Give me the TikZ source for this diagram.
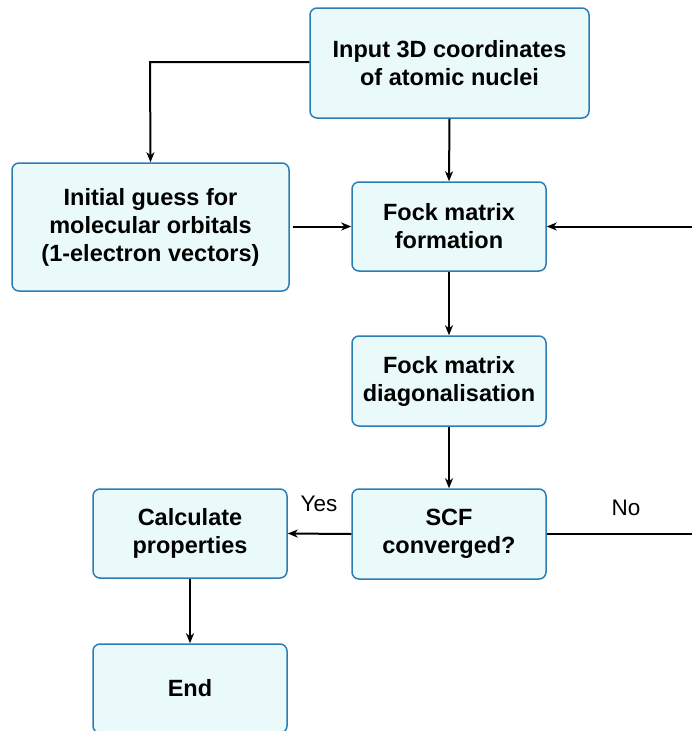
\documentclass[tikz,border=0pt]{standalone}
\usepackage{fontspec}
\setmainfont{Liberation Sans}
\usetikzlibrary{arrows.meta}
\definecolor{boxfill}{HTML}{EAFAFA}
\definecolor{boxline}{HTML}{2A7DB5}
\begin{document}
\begin{tikzpicture}[x=1pt,y=-1pt,
  box/.style={draw=boxline, line width=1.5pt, fill=boxfill, rounded corners=7pt,
    align=center, font=\fontsize{23.5}{28}\selectfont\bfseries, inner sep=0pt},
  conn/.style={line width=2pt, -{Stealth[length=10pt,width=8pt,inset=3pt]}},
  lbl/.style={font=\fontsize{22.5}{26}\selectfont}]
\useasboundingbox (0,0) rectangle (692,731);
\node[box, minimum width=279pt, minimum height=110pt] (input) at (449.5,63) {Input 3D coordinates\\of atomic nuclei};
\node[box, minimum width=277pt, minimum height=128pt] (guess) at (150.5,227) {Initial guess for\\molecular orbitals\\(1-electron vectors)};
\node[box, minimum width=194pt, minimum height=89pt] (form) at (449,226.5) {Fock matrix\\formation};
\node[box, minimum width=194pt, minimum height=90pt] (diag) at (449,381) {Fock matrix\\diagonalisation};
\node[box, minimum width=194pt, minimum height=90pt] (scf) at (449,534) {SCF\\converged?};
\node[box, minimum width=194pt, minimum height=89pt] (calc) at (190,533.5) {Calculate\\properties};
\node[box, minimum width=194pt, minimum height=89pt] (end) at (190,688.5) {End};
\coordinate (turnL) at (150,62);
\coordinate (turnR) at (700,534);
\draw[conn] (input.west |- turnL) -- (turnL) -- (guess.north);
\draw[conn] (input.south) -- (form.north);
\draw[conn] ([xshift=3pt]guess.east |- form.west) -- (form.west);
\draw[conn] (form.south) -- (diag.north);
\draw[conn] (diag.south) -- (scf.north);
\draw[conn] (scf.west) -- (calc.east);
\draw[conn] (scf.east) -- (turnR) |- (form.east);
\draw[conn] (calc.south) -- (end.north);
\node[lbl] (yes) at (319,504) {Yes};
\node[lbl] (no) at (626,508) {No};
\end{tikzpicture}
\end{document}
